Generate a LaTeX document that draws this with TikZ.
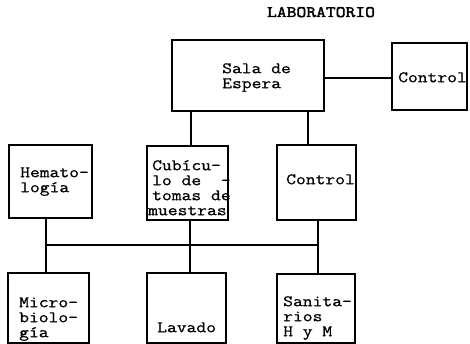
\documentclass[tikz,border=0pt]{standalone}
\usepackage{fontspec}
\newfontfamily\tw{Latin Modern Mono}[FakeStretch=1.19, FakeBold=0.8]
\newfontfamily\twb{Latin Modern Mono}[FakeStretch=1.19, FakeBold=2.2]
\tikzset{
  x=1pt, y=-1pt,
  box/.style={draw, line width=1.2pt, inner sep=0pt},
  conn/.style={line width=1.1pt},
  txt/.style={anchor=north west, inner sep=0pt, align=left,
    font=\tw\fontsize{16}{15}\selectfont},
  ttl/.style={anchor=base, inner sep=0pt,
    font=\twb\fontsize{16}{15}\selectfont}
}
\newcommand{\fl}{\rule{0pt}{10.5pt}}
\begin{document}
\begin{tikzpicture}
\useasboundingbox (0,0) rectangle (470,344);
% title
\node[ttl] (title) at (321,17) {LABORATORIO};
% boxes
\node[box, minimum width=152pt, minimum height=71pt] (sala) at (248,75.5) {};
\node[box, minimum width=75pt, minimum height=67pt] (ctrla) at (429.5,76.5) {};
\node[box, minimum width=83pt, minimum height=73pt] (hema) at (50.5,181.5) {};
\node[box, minimum width=81pt, minimum height=74pt] (cub) at (187.5,183) {};
\node[box, minimum width=79pt, minimum height=75pt] (ctrlb) at (316.5,182.5) {};
\node[box, minimum width=81pt, minimum height=70pt] (micro) at (48.5,308) {};
\node[box, minimum width=79pt, minimum height=70pt] (lav) at (186.5,308) {};
\node[box, minimum width=78pt, minimum height=69pt] (sani) at (316,308.5) {};
% texts
\node[txt] (tsala) at (222,73-10.5) {\fl Sala de\\Espera};
\node[txt] (tctrla) at (398,82-10.5) {\fl Control};
\node[txt] (thema) at (20,177-10.5) {\fl Hemato-\\logía};
\node[txt] (tcub) at (152,170-10.5) {\fl Cubícu-\\lo de~~-\\tomas de\\\hspace*{-4pt}muestras};
\node[txt] (tctrlb) at (286,184-10.5) {\fl Control};
\node[txt] (tmicro) at (19,307-10.5) {\fl Micro-\\biolo-\\gía};
\node[txt] (tlav) at (157,332-10.5) {\fl Lavado};
\node[txt] (tsani) at (283,306-10.5) {\fl Sanita-\\rios\\H y M};
% connector coordinates
\coordinate (c1) at (191,0);
\coordinate (c2) at (308,0);
\coordinate (b1) at (46,245);
\coordinate (b2) at (190,245);
\coordinate (b3) at (318,245);
\coordinate (r) at (0,78);
% connectors
\draw[conn] (sala.east |- r) -- (ctrla.west |- r);
\draw[conn] (sala.south -| c1) -- (cub.north -| c1);
\draw[conn] (sala.south -| c2) -- (ctrlb.north -| c2);
\draw[conn] (hema.south -| b1) -- (micro.north -| b1);
\draw[conn] (cub.south -| b2) -- (lav.north -| b2);
\draw[conn] (ctrlb.south -| b3) -- (sani.north -| b3);
\draw[conn] (b1) -- (b3);
\end{tikzpicture}
\end{document}
